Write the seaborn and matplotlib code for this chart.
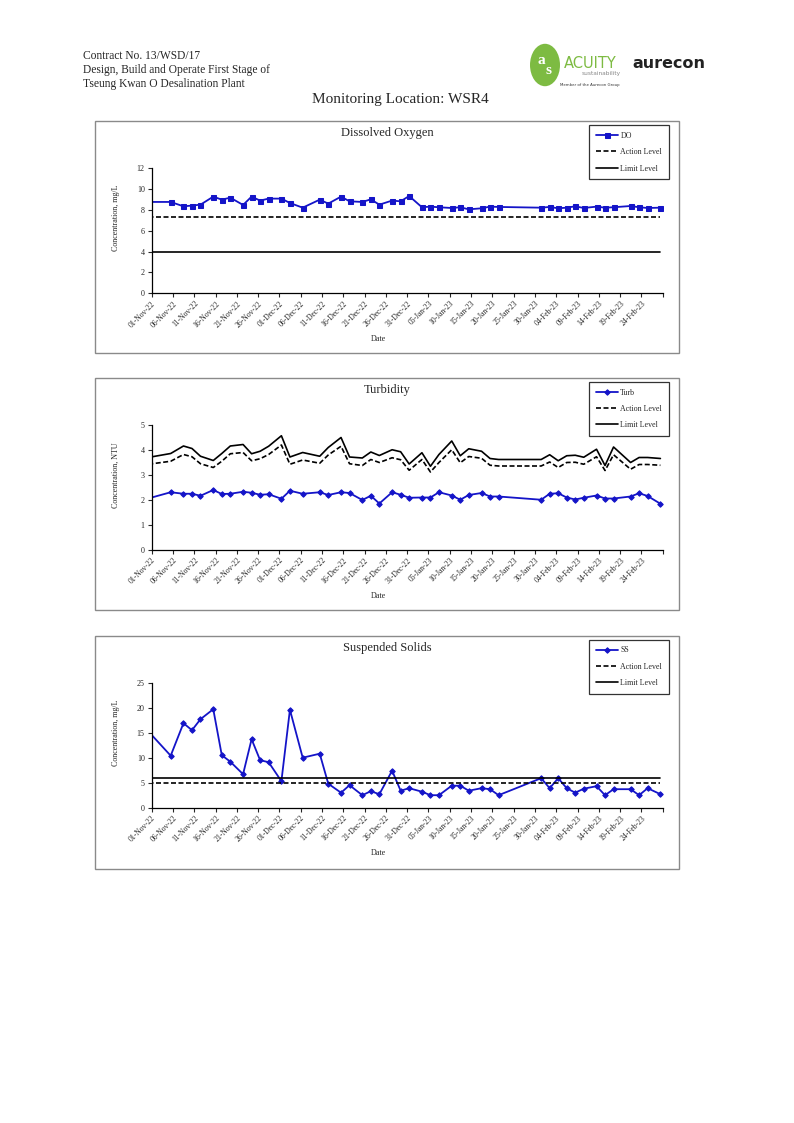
import pandas as pd
import matplotlib
matplotlib.use('Agg')
import matplotlib.pyplot as plt
from matplotlib.patches import Rectangle, Circle
import seaborn as sns

# Datas de amostragem (a primeira fica antes do eixo, a linha entra cortada como no Excel)
sample_dates = ['2022-10-29', '2022-11-05', '2022-11-08', '2022-11-10', '2022-11-12', '2022-11-15',
                '2022-11-17', '2022-11-19', '2022-11-22', '2022-11-24', '2022-11-26', '2022-11-28',
                '2022-12-01', '2022-12-03', '2022-12-06', '2022-12-10', '2022-12-12', '2022-12-15',
                '2022-12-17', '2022-12-20', '2022-12-22', '2022-12-24', '2022-12-27', '2022-12-29',
                '2022-12-31', '2023-01-03', '2023-01-05', '2023-01-07', '2023-01-10', '2023-01-12',
                '2023-01-14', '2023-01-17', '2023-01-19', '2023-01-21', '2023-01-31', '2023-02-02',
                '2023-02-04', '2023-02-06', '2023-02-08', '2023-02-10', '2023-02-13', '2023-02-15',
                '2023-02-17', '2023-02-21', '2023-02-23', '2023-02-25', '2023-02-28']

do_values = [8.77, 8.77, 8.35, 8.42, 8.51, 9.28, 8.99, 9.18, 8.48, 9.28, 8.90, 9.09,
             9.09, 8.67, 8.22, 8.99, 8.61, 9.28, 8.83, 8.77, 9.02, 8.51, 8.90, 8.83,
             9.34, 8.26, 8.32, 8.26, 8.19, 8.26, 8.06, 8.16, 8.32, 8.29, 8.22, 8.29,
             8.16, 8.22, 8.35, 8.19, 8.32, 8.22, 8.26, 8.38, 8.26, 8.19, 8.22]
do_action = 7.3
do_limit = 4.0

turb_values = [1.98, 2.31, 2.25, 2.25, 2.17, 2.40, 2.24, 2.25, 2.33, 2.29, 2.21, 2.23,
               2.05, 2.37, 2.25, 2.31, 2.20, 2.31, 2.28, 2.00, 2.17, 1.86, 2.31, 2.21,
               2.09, 2.10, 2.10, 2.31, 2.18, 2.01, 2.20, 2.28, 2.14, 2.14, 2.01, 2.25,
               2.27, 2.10, 2.02, 2.09, 2.18, 2.06, 2.06, 2.14, 2.27, 2.16, 1.85]
turb_action = [3.39, 3.55, 3.82, 3.73, 3.45, 3.30, 3.55, 3.85, 3.90, 3.57, 3.65, 3.82,
               4.20, 3.43, 3.60, 3.47, 3.80, 4.15, 3.45, 3.38, 3.62, 3.50, 3.69, 3.61,
               3.19, 3.62, 3.12, 3.50, 4.01, 3.49, 3.74, 3.67, 3.39, 3.36, 3.36, 3.52,
               3.30, 3.50, 3.51, 3.43, 3.73, 3.18, 3.81, 3.23, 3.42, 3.42, 3.39]
turb_limit = [3.65, 3.86, 4.16, 4.06, 3.75, 3.58, 3.86, 4.16, 4.22, 3.85, 3.95, 4.15,
              4.57, 3.72, 3.90, 3.75, 4.10, 4.50, 3.72, 3.68, 3.92, 3.78, 4.01, 3.93,
              3.44, 3.89, 3.35, 3.82, 4.36, 3.77, 4.05, 3.95, 3.66, 3.62, 3.62, 3.81,
              3.57, 3.77, 3.79, 3.71, 4.03, 3.38, 4.12, 3.50, 3.70, 3.70, 3.66]

ss_values = [16.9, 10.4, 16.9, 15.5, 17.7, 19.7, 10.5, 9.2, 6.7, 13.7, 9.5, 9.1,
             5.3, 19.6, 10.0, 10.8, 4.8, 3.0, 4.5, 2.5, 3.3, 2.7, 7.4, 3.4,
             3.9, 3.2, 2.5, 2.5, 4.4, 4.4, 3.4, 3.9, 3.7, 2.5, 5.9, 3.9,
             5.9, 3.9, 3.0, 3.8, 4.3, 2.5, 3.7, 3.7, 2.5, 3.9, 2.7]
ss_action = 5.0
ss_limit = 6.0

W, H = 794, 1123
blue = '#1414c8'

sns.set_style('white')
plt.rcParams['font.family'] = ['Liberation Serif', 'DejaVu Serif']

fig = plt.figure(figsize=(W / 100, H / 100), dpi=100)

# Cabeçalho
for i, txt in enumerate(['Contract No. 13/WSD/17',
                         'Design, Build and Operate First Stage of',
                         'Tseung Kwan O Desalination Plant']):
    fig.text(83 / W, 1 - (56 + i * 14) / H, txt, fontsize=8.3, va='center', ha='left')

fig.add_artist(Circle((545 / W, 1 - 65 / H), 15 / W, transform=fig.transFigure,
                      color='#7dbb42', ec='none'))
fig.text(541 / W, 1 - 60 / H, 'a', fontsize=11, color='white', ha='center', va='center', weight='bold')
fig.text(549 / W, 1 - 71 / H, 's', fontsize=11, color='white', ha='center', va='center', weight='bold')
fig.text(564 / W, 1 - 64 / H, 'ACUITY', fontsize=10.5, color='#7dbb42', ha='left', va='center',
         family='DejaVu Sans')
fig.text(621 / W, 1 - 74 / H, 'sustainability', fontsize=4.2, color='#888888', ha='right', va='center',
         family='DejaVu Sans')
fig.text(590 / W, 1 - 85 / H, 'Member of the Aurecon Group', fontsize=2.8, color='#333333', ha='center',
         va='center', family='DejaVu Sans')
fig.text(669 / W, 1 - 63 / H, 'aurecon', fontsize=11.5, weight='bold', color='#222222', ha='center',
         va='center', family='DejaVu Sans')

fig.text(400 / W, 1 - 100 / H, 'Monitoring Location: WSR4', fontsize=11, ha='center', va='center')

dates = pd.to_datetime(sample_dates) + pd.Timedelta(hours=11)
x_start, x_end = pd.Timestamp('2022-11-01'), pd.Timestamp('2023-03-01')
tick_dates = pd.date_range(x_start, x_end, freq='5D')


def draw_chart(panel_top, panel_bottom, axis_bottom_px, title, ylabel, ymax, ystep,
               values, action, limit, name, marker, msize, ylabel_y, title_y, date_y):
    fig.add_artist(Rectangle((95 / W, 1 - panel_bottom / H), 584 / W, (panel_bottom - panel_top) / H,
                             transform=fig.transFigure, fill=False, ec='#8a8a8a', lw=1.0))
    ax = fig.add_axes([151.7 / W, 1 - axis_bottom_px / H, 511 / W, 125 / H])
    df = pd.DataFrame({'date': dates, 'value': values,
                       'action': action if isinstance(action, list) else [action] * len(dates),
                       'limit': limit if isinstance(limit, list) else [limit] * len(dates)})
    sns.lineplot(data=df, x='date', y='value', ax=ax, color=blue, lw=1.3, marker=marker,
                 markersize=msize, markeredgecolor=blue, markerfacecolor=blue, label=name)
    sns.lineplot(data=df, x='date', y='action', ax=ax, color='black', lw=1.2, ls=(0, (3, 1.5)),
                 label='Action Level')
    sns.lineplot(data=df, x='date', y='limit', ax=ax, color='black', lw=1.2, label='Limit Level')

    ax.set_xlim(x_start, x_end)
    ax.set_ylim(0, ymax)
    ax.set_yticks(range(0, ymax + 1, ystep))
    ax.set_xticks(tick_dates)
    ax.set_xticklabels([d.strftime('%d-%b-%y') for d in tick_dates[:-1]] + [''],
                       rotation=45, ha='right', va='top', rotation_mode='anchor')
    ax.tick_params(axis='x', labelsize=5.5, length=3, width=0.8, pad=1.5, direction='out', bottom=True)
    ax.tick_params(axis='y', labelsize=5.8, length=3, width=0.8, pad=2, direction='out', left=True)
    for s in ['top', 'right']:
        ax.spines[s].set_visible(False)
    for s in ['left', 'bottom']:
        ax.spines[s].set_color('black')
        ax.spines[s].set_linewidth(0.9)
    ax.set_xlabel('')
    ax.set_ylabel('')
    ax.set_facecolor('none')

    fig.text(387.5 / W, 1 - title_y / H, title, fontsize=9, ha='center', va='center')
    fig.text(116 / W, 1 - ylabel_y / H, ylabel, fontsize=5.8, rotation=90, ha='center', va='center')
    fig.text(378 / W, 1 - date_y / H, 'Date', fontsize=5.8, ha='center', va='center')

    leg = ax.legend(loc='upper right', bbox_to_anchor=(1.012, 1.345), fontsize=5.7, frameon=True,
                    fancybox=False, edgecolor='black', handlelength=2.8, handletextpad=0.3,
                    labelspacing=1.05, borderpad=0.85, borderaxespad=0)
    leg.get_frame().set_linewidth(0.9)
    return ax


draw_chart(121, 353, 293.3, 'Dissolved Oxygen', 'Concentration, mg/L', 12, 2,
           do_values, do_action, do_limit, 'DO', 's', 3.6, 218, 133, 339)
draw_chart(378, 610, 550.0, 'Turbidity', 'Concentration, NTU', 5, 1,
           turb_values, turb_action, turb_limit, 'Turb', 'D', 2.8, 475, 390, 596)
draw_chart(636, 869, 807.7, 'Suspended Solids', 'Concentration, mg/L', 25, 5,
           ss_values, ss_action, ss_limit, 'SS', 'D', 2.8, 733, 648, 853)

fig.savefig('out.png', dpi=100)
